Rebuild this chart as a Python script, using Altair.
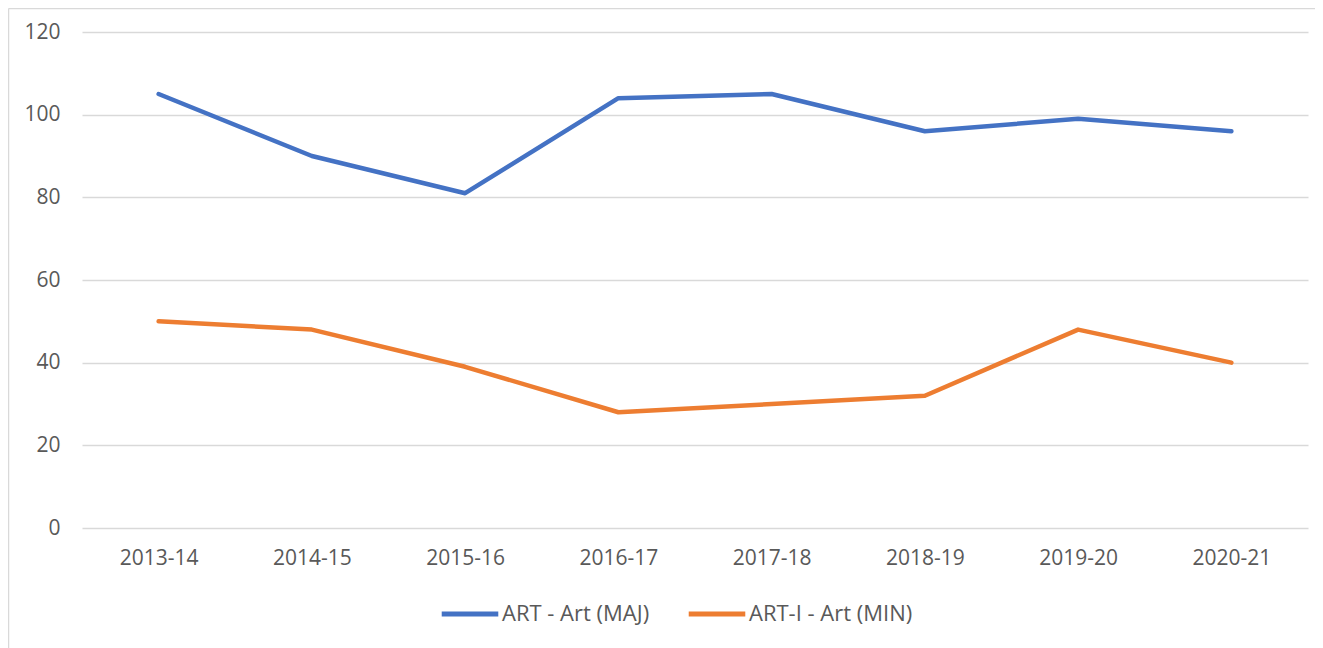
import altair as alt
import pandas as pd

years = ["2013-14", "2014-15", "2015-16", "2016-17", "2017-18", "2018-19", "2019-20", "2020-21"]
maj = [105, 90, 81, 104, 105, 96, 99, 96]
minr = [50, 48, 39, 28, 30, 32, 48, 40]
series_names = ["ART - Art (MAJ)", "ART-I - Art (MIN)"]
colors = ["#4472C4", "#ED7D31"]

rows = []
for y, v in zip(years, maj):
    rows.append({"year": y, "value": v, "series": series_names[0]})
for y, v in zip(years, minr):
    rows.append({"year": y, "value": v, "series": series_names[1]})
df = pd.DataFrame(rows)

FONT = "Open Sans"
LABEL = "#595959"
FS = 21

lines = alt.Chart(df).mark_line(strokeWidth=4.5, strokeCap="round", strokeJoin="round").encode(
    x=alt.X("year:N", sort=years, title=None,
            scale=alt.Scale(type="point", padding=0.5),
            axis=alt.Axis(grid=False, ticks=False, domain=False, labelAngle=0,
                          labelPadding=19, labelFontSize=FS, labelColor=LABEL, labelFont=FONT)),
    y=alt.Y("value:Q", title=None,
            scale=alt.Scale(domain=[0, 120], nice=False),
            axis=alt.Axis(values=[0, 20, 40, 60, 80, 100, 120], ticks=False, domain=False,
                          gridColor="#D9D9D9", gridWidth=1.5,
                          labelPadding=22, labelFontSize=FS, labelColor=LABEL, labelFont=FONT)),
    color=alt.Color("series:N", sort=series_names,
                    scale=alt.Scale(domain=series_names, range=colors),
                    legend=alt.Legend(title=None, orient="none", legendX=357, legendY=551,
                                      direction="horizontal", columns=2, symbolType="stroke",
                                      symbolSize=3200, symbolStrokeWidth=5, columnPadding=28,
                                      labelOffset=1, labelLimit=0,
                                      labelFontSize=22, labelColor=LABEL, labelFont=FONT)),
)

border_data = alt.Data(values=[{"k": 1}])
top_border = alt.Chart(border_data).mark_rule(color="#D9D9D9", strokeWidth=1.5).encode(
    x=alt.value(-73.5), x2=alt.value(1240), y=alt.value(-23.5))
left_border = alt.Chart(border_data).mark_rule(color="#D9D9D9", strokeWidth=1.5).encode(
    x=alt.value(-73.5), y=alt.value(-23.5), y2=alt.value(640))

chart = alt.layer(top_border, left_border, lines).properties(
    width=1226, height=496,
    autosize=alt.AutoSizeParams(type="none"),
    padding={"left": 74, "top": 24, "right": 7, "bottom": 120},
    background="white",
).configure_view(stroke=None)

chart.save("out.html", embed_options={"renderer": "svg", "actions": False})
